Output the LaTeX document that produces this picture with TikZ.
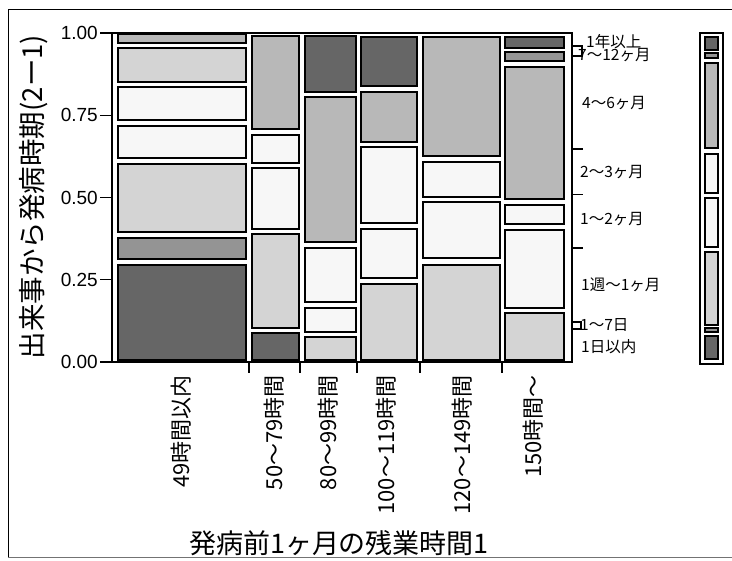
\documentclass[tikz,border=0pt]{standalone}
\usepackage{fontspec}
\setmainfont{Liberation Sans}
\newfontfamily\jp{Noto Sans CJK JP}
\newcommand\mcell[5]{\draw[#5] (#1,#2) rectangle (#3,#4);}
\begin{document}
\begin{tikzpicture}[x=1pt,y=-1pt,
  cell/.style={draw=black,line width=1.7pt},
  dk/.style={cell,fill=black!60},
  md/.style={cell,fill=black!42},
  lm/.style={cell,fill=black!28},
  lt/.style={cell,fill=black!17},
  wh/.style={cell,fill=black!3},
  axisline/.style={line width=1.3pt},
  ytick/.style={font=\fontsize{19}{19}\selectfont, anchor=east, inner sep=0pt},
  xlab/.style={font=\jp\fontsize{22}{22}\selectfont, rotate=90, anchor=east, inner sep=0pt},
  rlab/.style={font=\jp\fontsize{15.5}{15.5}\selectfont, anchor=west, inner sep=0pt},
]
\useasboundingbox (0,0) rectangle (732,561);
% outer frame
\draw[line width=1pt] (732,10) -- (8,10) -- (8,558);
\draw[line width=1pt,black!55] (8,558) -- (732,558);
% plot frame and axes
\draw[axisline] (112,33) rectangle (572,362);
\foreach \v/\y in {1.00/33,0.75/115.25,0.50/197.5,0.25/279.75,0.00/362}{
  \draw[axisline] (100,\y) -- (112,\y);
  \node[ytick] at (98,\y) {\v};
}
\foreach \x in {249,300,357,420,502}{\draw[axisline] (\x,362) -- (\x,373);}
% column 1
\mcell{118}{34}{246}{43}{lm}
\mcell{118}{48}{246}{82}{lt}
\mcell{118}{87}{246}{120}{wh}
\mcell{118}{126}{246}{158}{wh}
\mcell{118}{164}{246}{232}{lt}
\mcell{118}{238}{246}{259}{md}
\mcell{118}{265}{246}{360}{dk}
% column 2
\mcell{252}{36}{299}{129}{lm}
\mcell{252}{135}{299}{163}{wh}
\mcell{252}{168}{299}{229}{wh}
\mcell{252}{234}{299}{328}{lt}
\mcell{252}{333}{299}{360}{dk}
% column 3
\mcell{305}{36}{356}{92}{dk}
\mcell{305}{97}{356}{242}{lm}
\mcell{305}{248}{356}{302}{wh}
\mcell{305}{308}{356}{332}{wh}
\mcell{305}{337}{356}{360}{lt}
% column 4
\mcell{361}{37}{417}{86}{dk}
\mcell{361}{92}{417}{142}{lm}
\mcell{361}{147}{417}{223}{wh}
\mcell{361}{229}{417}{278}{wh}
\mcell{361}{284}{417}{360}{lt}
% column 5
\mcell{423}{37}{500}{156}{lm}
\mcell{423}{162}{500}{197}{wh}
\mcell{423}{202}{500}{258}{wh}
\mcell{423}{265}{500}{360}{lt}
% column 6
\mcell{505}{37}{564}{48}{dk}
\mcell{505}{52}{564}{61}{md}
\mcell{505}{67}{564}{199}{lm}
\mcell{505}{205}{564}{224}{wh}
\mcell{505}{230}{564}{308}{wh}
\mcell{505}{313}{564}{360}{lt}
% x category labels
\node[xlab] at (181,375) {49時間以内};
\node[xlab] at (274,375) {50～79時間};
\node[xlab] at (328,375) {80～99時間};
\node[xlab] at (386,375) {100～119時間};
\node[xlab] at (462,375) {120～149時間};
\node[xlab] at (533,375) {150時間～};
% right axis ticks
\foreach \y in {149,194.5,248}{\draw[axisline] (572,\y) -- (583,\y);}
\draw[axisline] (572,46) -- (582,46) -- (582,56) -- (572,56);
\draw[axisline] (572,322) -- (581,322) -- (581,329) -- (572,329);
% right labels
\node[rlab] at (586,42) {1年以上};
\node[rlab] at (578,55) {7～12ヶ月};
\node[rlab] at (582,103) {4～6ヶ月};
\node[rlab] at (580,172) {2～3ヶ月};
\node[rlab] at (580,219) {1～2ヶ月};
\node[rlab] at (581,285) {1週～1ヶ月};
\node[rlab] at (580,325) {1～7日};
\node[rlab] at (581,347) {1日以内};
% legend bar
\draw[line width=1.1pt] (700,33) rectangle (723,364);
\mcell{705}{37}{718}{50}{dk}
\mcell{705}{53}{718}{58}{md}
\mcell{705}{63}{718}{148}{lm}
\mcell{705}{154}{718}{193}{wh}
\mcell{705}{198}{718}{247}{wh}
\mcell{705}{252}{718}{325}{lt}
\mcell{705}{328}{718}{332}{md}
\mcell{705}{336}{718}{359}{dk}
% titles
\node[font=\jp\fontsize{27.5}{27.5}\selectfont, rotate=90, inner sep=0pt] at (34,197) {出来事から発病時期(2ー1)};
\node[font=\jp\fontsize{27}{27}\selectfont, inner sep=0pt] at (339,543) {発病前1ヶ月の残業時間1};
\end{tikzpicture}
\end{document}
